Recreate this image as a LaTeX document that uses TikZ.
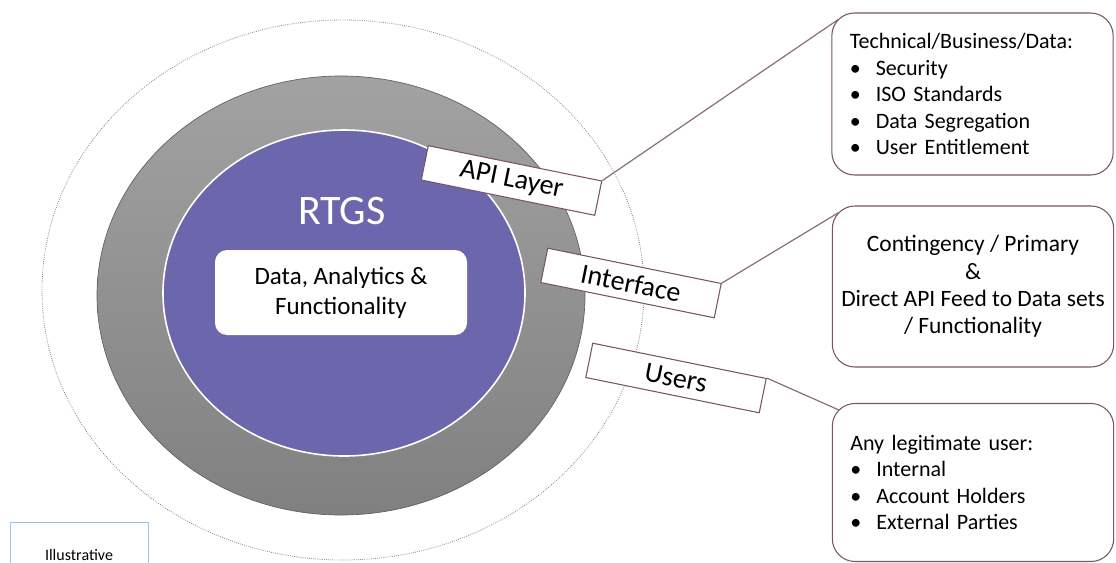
\documentclass[tikz,border=0pt]{standalone}
\usepackage{fontspec}
\setmainfont{Carlito}
\usepackage{tikz}
\usetikzlibrary{shapes.geometric}

\definecolor{rtgspurple}{RGB}{108,103,172}
\definecolor{ringtop}{RGB}{162,162,162}
\definecolor{ringbottom}{RGB}{128,128,128}
\definecolor{ringedge}{RGB}{95,95,95}
\definecolor{mauve}{RGB}{120,84,106}
\definecolor{linkline}{RGB}{138,108,128}
\definecolor{illblue}{RGB}{157,195,230}

\tikzset{
    layerbox/.style={draw=mauve, fill=white, line width=0.8pt, rotate=-11.5,
        minimum width=132.75pt, minimum height=26.25pt, inner sep=0pt,
        font=\fontsize{21}{25}\selectfont},
    callbox/.style={draw=mauve, line width=0.8pt, rounded corners=17pt,
        minimum width=211pt, inner xsep=13.5pt,
        font=\fontsize{16.5}{19.9}\selectfont},
    link/.style={draw=linkline, line width=0.9pt},
}

\newcommand{\bitem}[1]{\makebox[19.5pt][l]{\textbullet}#1}

\begin{document}
\begin{tikzpicture}[x=0.75pt, y=-0.75pt]
        \useasboundingbox (0, 0) rectangle (1116, 563);
        \draw [densely dotted, gray, line width=0.6pt] (343, 290) ellipse [x radius=301, y radius=270];
        \shade [top color=ringtop, bottom color=ringbottom, draw=ringedge, line width=0.5pt] (341, 295.5) ellipse [x radius=244, y radius=219.5];
        \draw [white, line width=1.2pt, fill=rtgspurple] (344, 293) ellipse [x radius=181, y radius=163];
        \node (rtgs) [white, font=\fontsize{31.5}{36}\selectfont] at (342, 211) {RTGS};
        \node (core) [fill=white, rounded corners=9pt, minimum width=189pt, minimum height=63.75pt, align=center, font=\fontsize{18.75}{22.5}\selectfont] at (341, 292.5) {Data, Analytics \&\\Functionality};
        % layer labels
        \node (api) [layerbox] at (511.5, 180.5) {API Layer};
        \node (iface) [layerbox] at (631, 283) {Interface};
        \node (users) [layerbox] at (676, 378) {Users};
        % notes
        \node (apinote) [callbox, text width=184pt, align=left, minimum height=121.5pt] at (972.5, 94) {Technical/Business/Data:\\\bitem{Security}\\\bitem{ISO Standards}\\\bitem{Data Segregation}\\\bitem{User Entitlement}};
        \node (ifacenote) [callbox, align=center, minimum height=120.75pt, inner xsep=2pt, font=\fontsize{17.6}{20.5}\selectfont] at (973, 286.5) {Contingency / Primary\\\&\\Direct API Feed to Data sets\\/ Functionality};
        \node (usersnote) [callbox, text width=184pt, align=left, minimum height=118.5pt] at (973, 482.5) {Any legitimate user:\\\bitem{Internal}\\\bitem{Account Holders}\\\bitem{External Parties}};
        \draw [link] (api.north east) -- ([shift={(7, 7)}] apinote.north west);
        \draw [link] (iface.north east) -- ([shift={(7, 7)}] ifacenote.north west);
        \draw [link] (users.north east) -- ([shift={(7, 7)}] usersnote.north west);
        \node (illus) [draw=illblue, line width=0.6pt, minimum width=103.5pt, minimum height=49.5pt, font=\fontsize{12}{14}\selectfont] at (79, 555) {Illustrative};
    \end{tikzpicture}
\end{document}
